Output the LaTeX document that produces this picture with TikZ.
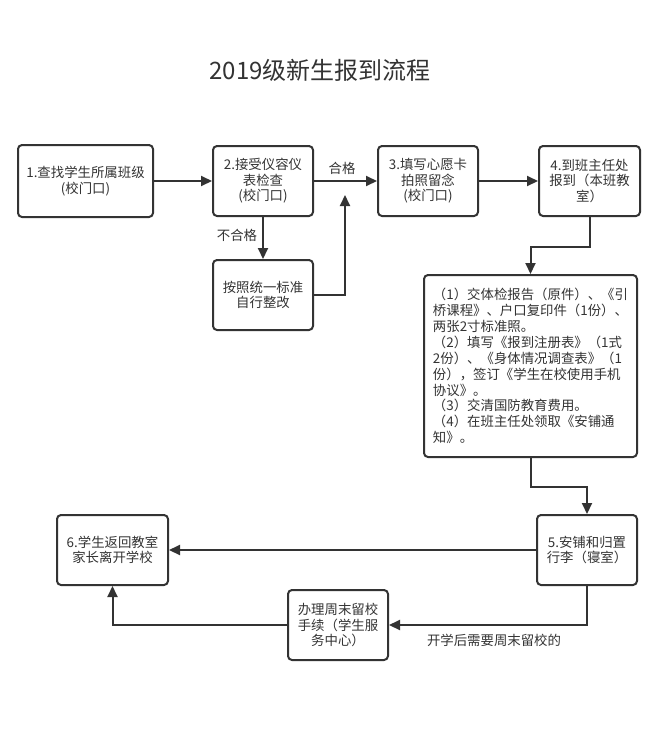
\documentclass[tikz,border=0pt]{standalone}
\usepackage{fontspec}
\newfontfamily\cjk{Noto Sans CJK SC}
\usetikzlibrary{arrows.meta}
\definecolor{ink}{HTML}{333333}
\begin{document}
\begin{tikzpicture}[x=1pt,y=-1pt,
  font=\cjk\fontsize{13.4}{15.5}\selectfont,
  box/.style={draw=ink,line width=2pt,rounded corners=4pt,text=ink,align=center,inner sep=0pt},
  arr/.style={draw=ink,line width=2pt,-{Triangle[length=11pt,width=10pt]}},
  lbl/.style={text=ink,inner sep=0pt}]
\useasboundingbox (0,0) rectangle (660,729);
\node[text=ink,font=\cjk\fontsize{24}{28}\selectfont] (title) at (320,70) {2019级新生报到流程};
\node[box,minimum width=135pt,minimum height=72pt] (b1) at (85.5,181) {1.查找学生所属班级\\(校门口)};
\node[box,minimum width=100pt,minimum height=70pt] (b2) at (263,181) {2.接受仪容仪\\表检查\\(校门口)};
\node[box,minimum width=100pt,minimum height=70pt] (b7) at (263,295) {按照统一标准\\自行整改};
\node[box,minimum width=100pt,minimum height=70pt] (b3) at (428,181) {3.填写心愿卡\\拍照留念\\(校门口)};
\node[box,minimum width=101pt,minimum height=70pt] (b4) at (589.5,181) {4.到班主任处\\报到（本班教\\室）};
\node[box,minimum width=213pt,minimum height=182pt,align=left,font=\cjk\fontsize{13.4}{15.9}\selectfont] (big) at (530.5,366) {（1）交体检报告（原件）、《引\\桥课程》、户口复印件（1份）、\\两张2寸标准照。\\（2）填写《报到注册表》（1式\\2份）、《身体情况调查表》（1\\份），签订《学生在校使用手机\\协议》。\\（3）交清国防教育费用。\\（4）在班主任处领取《安铺通\\知》。};
\node[box,minimum width=100pt,minimum height=70pt] (b5) at (587,550) {5.安铺和归置\\行李（寝室）};
\node[box,minimum width=111pt,minimum height=70pt] (b6) at (112.5,550) {6.学生返回教室\\家长离开学校};
\node[box,minimum width=100pt,minimum height=70pt] (b8) at (338,625) {办理周末留校\\手续（学生服\\务中心）};
\coordinate (c1) at (345,195);
\draw[arr] (b1.east) -- (b2.west);
\draw[arr] (b2.east) -- (b3.west);
\node[lbl] (l1) at (342,168) {合格};
\draw[arr] (b2.south) -- (b7.north);
\node[lbl] (l2) at (237,235) {不合格};
\draw[arr] (b7.east) -| (c1);
\draw[arr] (b3.east) -- (b4.west);
\draw[arr] (b4.south) -- ++(0,30) -| (big.north);
\draw[arr] (big.south) -- ++(0,29) -| (b5.north);
\draw[arr] (b5.west) -- (b6.east);
\draw[arr] (b5.south) |- (b8.east);
\node[lbl] (l3) at (494,640) {开学后需要周末留校的};
\draw[arr] (b8.west) -| (b6.south);
\end{tikzpicture}
\end{document}
